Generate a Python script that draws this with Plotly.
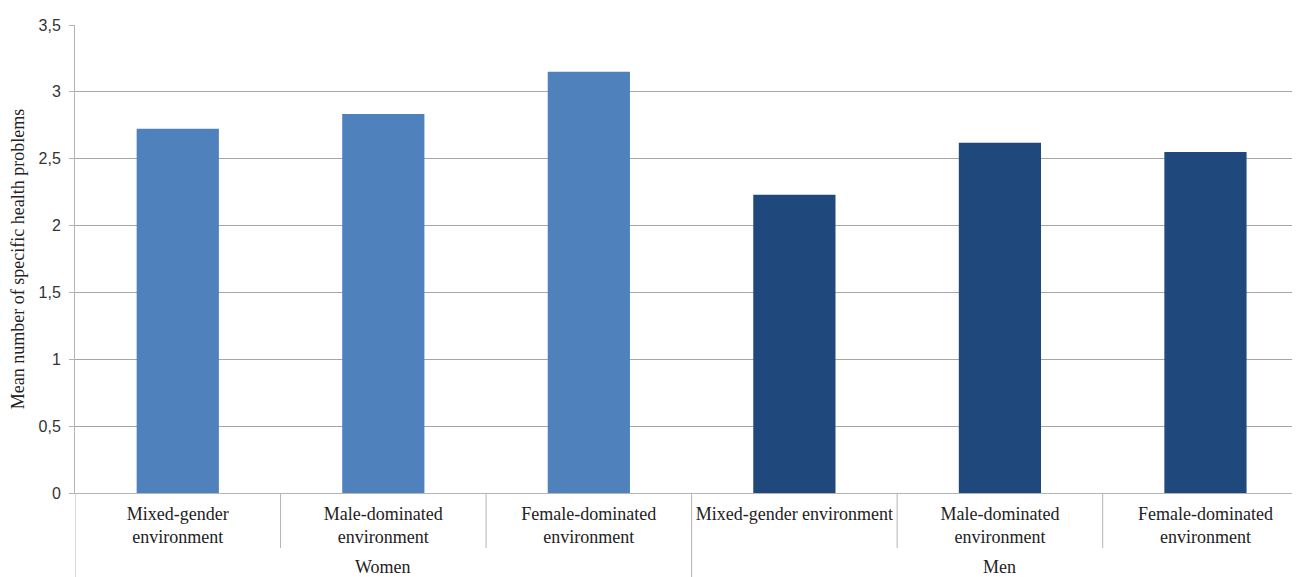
import plotly.graph_objects as go

groups = ["Women", "Men"]
environments = ["Mixed-gender environment", "Male-dominated environment", "Female-dominated environment"]
# tick labels as wrapped in the reference
tick_labels = [
    "Mixed-gender<br>environment", "Male-dominated<br>environment", "Female-dominated<br>environment",
    "Mixed-gender environment", "Male-dominated<br>environment", "Female-dominated<br>environment",
]
women_values = [2.725, 2.835, 3.15]
men_values = [2.23, 2.62, 2.55]
y_ticks = [0, 0.5, 1, 1.5, 2, 2.5, 3, 3.5]

colors = {"Women": "#4F81BD", "Men": "#1F497D"}
series = {"Women": women_values, "Men": men_values}

n_env = len(environments)
fig = go.Figure()
for gi, g in enumerate(groups):
    xs = [gi * n_env + k for k in range(n_env)]
    fig.add_trace(go.Bar(
        x=xs, y=series[g], name=g, width=0.4,
        marker=dict(color=colors[g], line=dict(width=0)),
        showlegend=False,
    ))

all_x = list(range(len(groups) * n_env))
W, H = 1292, 569  # page adds an 8px body margin
m_l, m_r, m_t, m_b = 67, 0, 17, 84
plot_h = H - m_t - m_b
grid_col = "#A6A6A6"
axis_col = "#B4B4B4"
serif = "Liberation Serif"

shapes = []
annotations = []
for i in range(1, len(all_x)):
    if i % n_env == 0:
        continue
    shapes.append(dict(type="line", xref="x", yref="paper", x0=i - 0.5, x1=i - 0.5,
                       y0=0, y1=-55 / plot_h, line=dict(color=axis_col, width=1)))
for gi, g in enumerate(groups):
    xb = gi * n_env - 0.5
    shapes.append(dict(type="line", xref="x", yref="paper", x0=xb, x1=xb,
                       y0=0, y1=-m_b / plot_h, line=dict(color=axis_col, width=1)))
    annotations.append(dict(text=g, xref="x", yref="paper", x=gi * n_env + (n_env - 1) / 2,
                            y=-74 / plot_h, yanchor="middle", showarrow=False,
                            font=dict(family=serif, size=18, color="#222222")))

fig.update_layout(
    width=W, height=H,
    margin=dict(l=m_l, r=m_r, t=m_t, b=m_b),
    plot_bgcolor="white", paper_bgcolor="white",
    separators=", ",
    barmode="overlay",
    shapes=shapes,
    annotations=annotations,
    xaxis=dict(
        range=[-0.5, 5.46],
        tickvals=all_x, ticktext=tick_labels,
        tickfont=dict(family=serif, size=18, color="#222222"),
        ticklabelstandoff=4,
        showline=True, linecolor=axis_col, linewidth=1,
        showgrid=False, zeroline=False, ticks="",
    ),
    yaxis=dict(
        range=[0, 3.5], tickvals=y_ticks,
        tickformat=",.1~f",
        tickfont=dict(family="Liberation Sans", size=16, color="#333333"),
        ticklabelstandoff=5,
        showgrid=True, gridcolor=grid_col, gridwidth=1,
        showline=True, linecolor=axis_col, linewidth=1,
        ticks="outside", ticklen=5, tickcolor=axis_col,
        zeroline=False,
        title=dict(text="Mean number of specific health problems",
                   font=dict(family=serif, size=18, color="#222222"),
                   standoff=9),
    ),
)

fig.write_html("out.html")
